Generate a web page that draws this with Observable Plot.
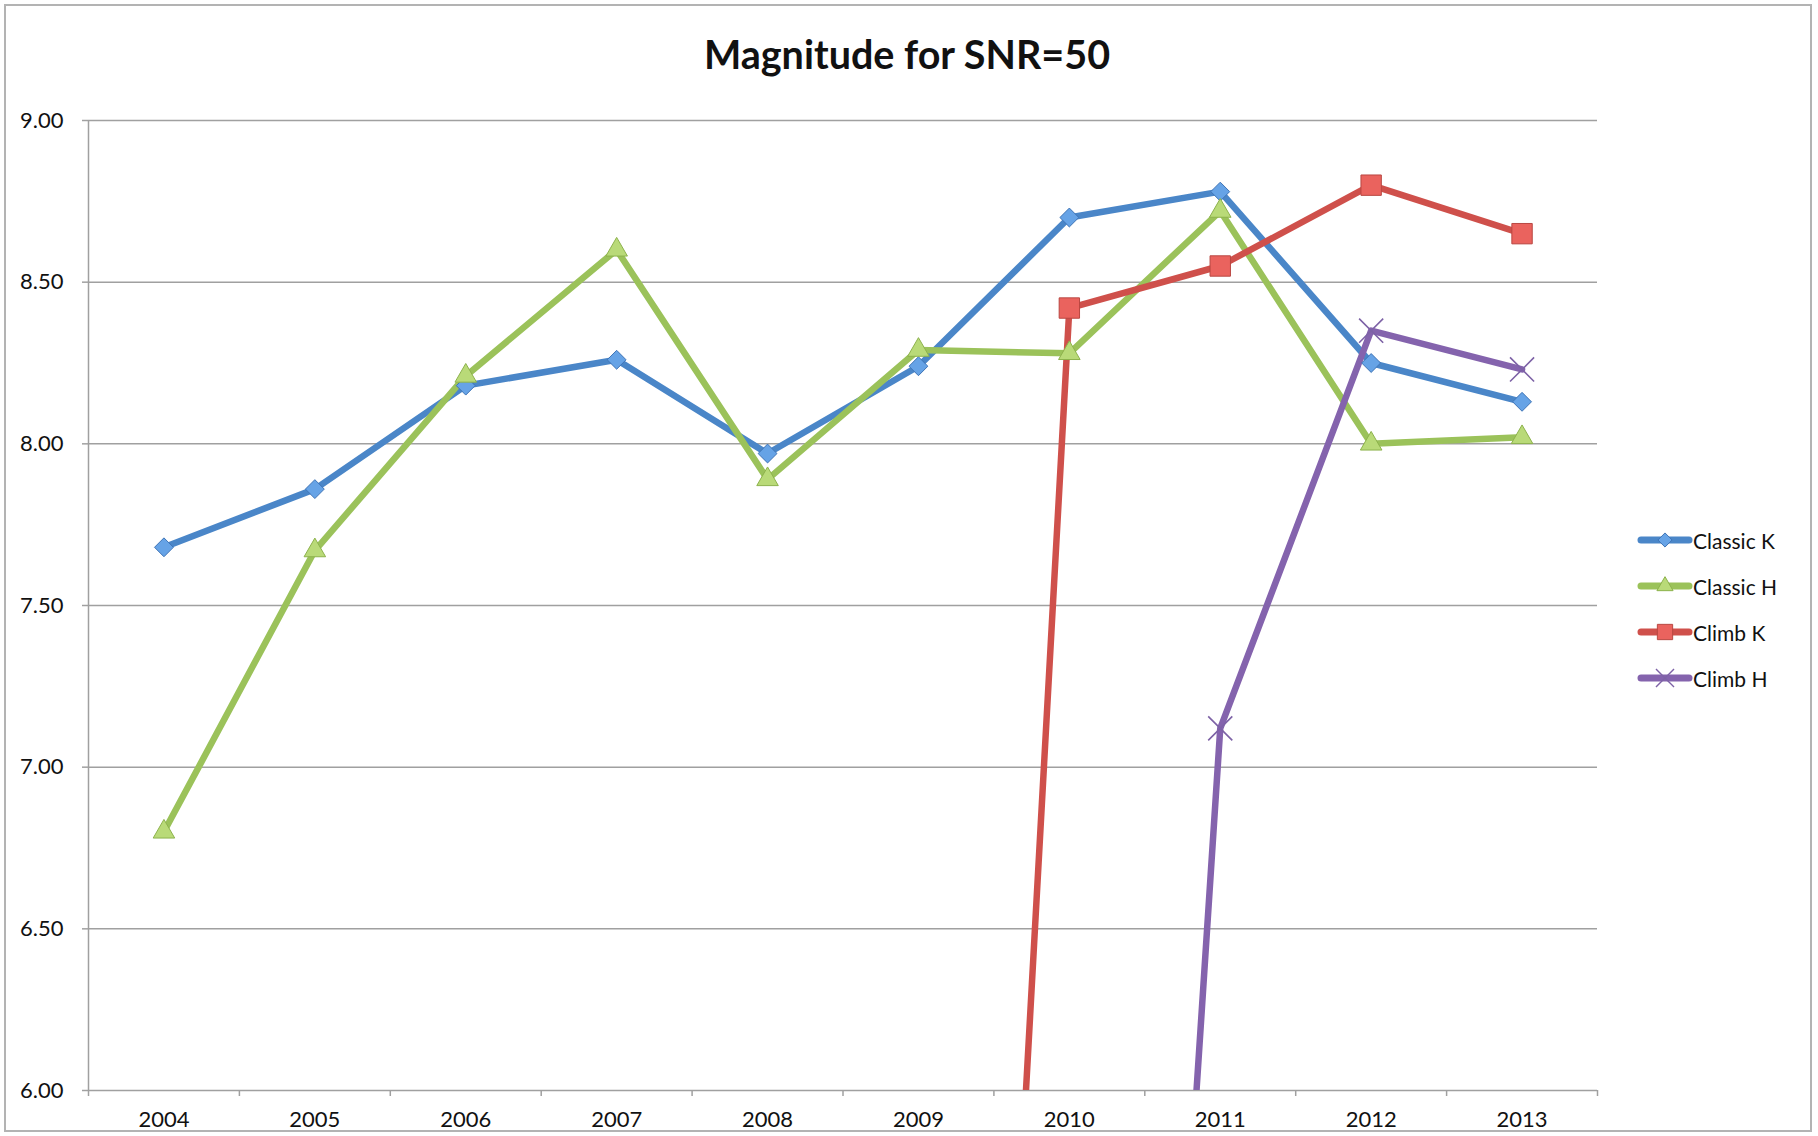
<!DOCTYPE html>
<html>
<head>
<meta charset="utf-8">
<script src="https://cdn.jsdelivr.net/npm/d3@7"></script>
<script src="https://cdn.jsdelivr.net/npm/@observablehq/plot@0.6"></script>
<style>
  html, body { margin: 0; padding: 0; background: #fff; }
  #wrap { position: relative; width: 1818px; height: 1136px; overflow: hidden; font-family: Lato, "Open Sans", sans-serif; }
  #frame { position: absolute; left: 4px; top: 4px; width: 1804px; height: 1124px; border: 2px solid #b3b3b3; }
  #title { position: absolute; left: 0; top: 29px; width: 1814px; height: 50px; line-height: 50px; text-align: center; font-weight: bold; font-size: 39.5px; color: #111; }
  #chart { position: absolute; left: 0; top: 0; }
  #legend { position: absolute; left: 1637px; top: 517px; }
  .lrow { display: flex; align-items: center; height: 46px; font-size: 21px; color: #111; }
  .lrow svg { display: block; }
</style>
</head>
<body>
<div id="wrap">
  <div id="frame"></div>
  <div id="chart"></div>
  <div id="title">Magnitude for SNR=50</div>
  <div id="legend"></div>
</div>
<script>
// ---- data ----
const years = [2004, 2005, 2006, 2007, 2008, 2009, 2010, 2011, 2012, 2013];
const seriesNames = ["Classic K", "Classic H", "Climb K", "Climb H"];
const classicK = [7.68, 7.86, 8.18, 8.26, 7.97, 8.24, 8.70, 8.78, 8.25, 8.13];
const classicH = [6.80, 7.67, 8.21, 8.60, 7.89, 8.29, 8.28, 8.72, 8.00, 8.02];
const climbK   = [null, null, null, null, null, 0, 8.42, 8.55, 8.80, 8.65];
const climbH   = [null, null, null, null, null, null, 0, 7.12, 8.35, 8.23];
const yTicks = [6, 6.5, 7, 7.5, 8, 8.5, 9];

// ---- styles ----
const lineColors   = ["#4a86c8", "#9bc25a", "#cf504b", "#8463ad"];
const markerFills  = ["#66a3e6", "#b9da78", "#ea635e", "none"];
const markerStroke = ["#3f74b6", "#8db24c", "#b94742", "#7d62a6"];
const symbols      = ["diamond2", "triangle", "square", "times"];
const markerR      = [8.5, 8, 11.5, 11];

const values = [classicK, classicH, climbK, climbH];
const rowsBySeries = seriesNames.map((s, si) =>
  years.map((y, i) => ({ series: s, year: y, value: values[si][i] }))
);
const boundaries = d3.range(years.length + 1).map(i => years[0] - 0.5 + i);
const xDomain = [boundaries[0], boundaries[boundaries.length - 1]];

const marks = [
  Plot.ruleY(yTicks, { y: d => d, x1: xDomain[0], x2: xDomain[1], stroke: "#a0a0a0", strokeWidth: 1.5 }),
  Plot.ruleY(yTicks, { y: d => d, x1: xDomain[0], x2: xDomain[0], insetRight: 6, stroke: "#a0a0a0", strokeWidth: 1.5 }),
  Plot.ruleX([xDomain[0]], { x: d => d, y1: 6, y2: 9, stroke: "#a0a0a0", strokeWidth: 1.5 }),
  Plot.ruleX(boundaries, { x: d => d, y1: 6, y2: 6, insetTop: 6, stroke: "#a0a0a0", strokeWidth: 1.5 })
];

rowsBySeries.forEach((rows, si) => {
  marks.push(Plot.line(rows, {
    x: "year", y: "value", stroke: lineColors[si], strokeWidth: 6.5,
    strokeLinejoin: "round", strokeLinecap: "round", clip: true
  }));
});
rowsBySeries.forEach((rows, si) => {
  marks.push(Plot.dot(rows.filter(d => d.value != null && d.value >= 6), {
    x: "year", y: "value", symbol: () => symbols[si], r: markerR[si],
    fill: markerFills[si], stroke: markerStroke[si], strokeWidth: si === 3 ? 1.6 : 1
  }));
});

const chart = Plot.plot({
  width: 1818,
  height: 1136,
  marginLeft: 88,
  marginRight: 221,
  marginTop: 120,
  marginBottom: 46,
  style: { fontFamily: "Lato, 'Open Sans', sans-serif", fontSize: "22px", color: "#111", background: "transparent" },
  x: { domain: xDomain, ticks: years, tickFormat: d => String(d), tickSize: 0, tickPadding: 21, label: null },
  y: { domain: [6, 9], ticks: yTicks, tickFormat: d => d.toFixed(2), tickSize: 0, tickPadding: 25, label: null },
  symbol: { type: "identity" },
  marks
});
document.getElementById("chart").appendChild(chart);

// ---- legend ----
const legend = d3.select("#legend");
const symMap = { diamond2: d3.symbolDiamond2, triangle: d3.symbolTriangle, square: d3.symbolSquare, times: d3.symbolTimes };
seriesNames.forEach((name, si) => {
  const row = legend.append("div").attr("class", "lrow");
  const svg = row.append("svg").attr("width", 56).attr("height", 22);
  svg.append("line").attr("x1", 4).attr("x2", 52).attr("y1", 11).attr("y2", 11)
    .attr("stroke", lineColors[si]).attr("stroke-width", 7).attr("stroke-linecap", "round");
  const size = Math.PI * (markerR[si] * 0.75) ** 2;
  svg.append("path").attr("transform", "translate(28,11)")
    .attr("d", d3.symbol(symMap[symbols[si]], size)())
    .attr("fill", markerFills[si]).attr("stroke", markerStroke[si]).attr("stroke-width", si === 3 ? 1.4 : 1);
  row.append("span").text(name);
});
</script>
</body>
</html>
